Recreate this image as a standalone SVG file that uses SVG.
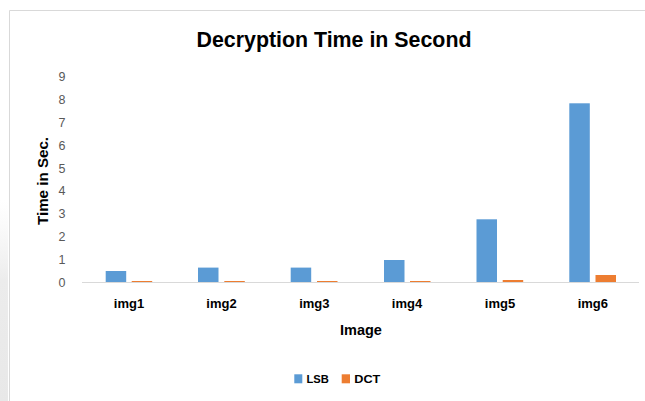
<svg xmlns="http://www.w3.org/2000/svg" width="645" height="401" viewBox="0 0 645 401">
<defs>
<style>
.t{font-family:"Liberation Sans",Arial,sans-serif;fill:#000;font-weight:bold}
.tick{font-family:"Liberation Sans",Arial,sans-serif;fill:#595959;font-size:12.5px;text-anchor:middle}
.cat{font-family:"Liberation Sans",Arial,sans-serif;font-weight:bold;font-size:13px;fill:#000;text-anchor:middle}
.lsb{fill:#5b9bd5}
.dct{fill:#ed7d31}
</style>
<linearGradient id="wm" x1="0" y1="0" x2="0" y2="1">
<stop offset="0" stop-color="#f2f2f2" stop-opacity="0"/>
<stop offset="0.4" stop-color="#ececec"/>
<stop offset="1" stop-color="#e8e8e8"/>
</linearGradient>
</defs>
<rect width="645" height="401" fill="#fff"/>
<rect x="0" y="200" width="8" height="201" fill="url(#wm)"/>
<path d="M9.5 401V10.5H645" fill="none" stroke="#d9d9d9" stroke-width="1"/>
<g id="title">
<text class="t" x="334" y="47" font-size="22.5" text-anchor="middle" textLength="275" lengthAdjust="spacingAndGlyphs">Decryption Time in Second</text>
</g>
<g id="y-axis">
<text class="t" transform="translate(48,181) rotate(-90)" font-size="14.5" text-anchor="middle" textLength="88" lengthAdjust="spacingAndGlyphs">Time in Sec.</text>
<text class="tick" x="62" y="286.5">0</text>
<text class="tick" x="62" y="263.7">1</text>
<text class="tick" x="62" y="240.9">2</text>
<text class="tick" x="62" y="218.1">3</text>
<text class="tick" x="62" y="195.3">4</text>
<text class="tick" x="62" y="172.5">5</text>
<text class="tick" x="62" y="149.7">6</text>
<text class="tick" x="62" y="126.9">7</text>
<text class="tick" x="62" y="104.1">8</text>
<text class="tick" x="62" y="81.3">9</text>
</g>
<g id="bars">
<rect class="lsb" x="105.7" y="271" width="20.5" height="11"/>
<rect class="dct" x="131.7" y="281" width="20.5" height="1"/>
<rect class="lsb" x="198" y="267.6" width="20.5" height="14.4"/>
<rect class="dct" x="224.3" y="281" width="20.5" height="1"/>
<rect class="lsb" x="290.7" y="267.6" width="20.5" height="14.4"/>
<rect class="dct" x="317" y="281" width="20.5" height="1"/>
<rect class="lsb" x="384" y="260" width="20.5" height="22"/>
<rect class="dct" x="410" y="281" width="20.5" height="1"/>
<rect class="lsb" x="476.5" y="219.3" width="20.5" height="62.7"/>
<rect class="dct" x="502.7" y="280" width="20.5" height="2"/>
<rect class="lsb" x="569.3" y="103.3" width="20.5" height="178.7"/>
<rect class="dct" x="595.5" y="275" width="20.5" height="7"/>
</g>
<g id="x-axis">
<line x1="82" y1="282.5" x2="639" y2="282.5" stroke="#d9d9d9" stroke-width="1"/>
<text class="cat" x="129" y="308">img1</text>
<text class="cat" x="221.5" y="308">img2</text>
<text class="cat" x="314.3" y="308">img3</text>
<text class="cat" x="407" y="308">img4</text>
<text class="cat" x="500" y="308">img5</text>
<text class="cat" x="592.8" y="308">img6</text>
<text class="t" x="361" y="335" font-size="14.5" text-anchor="middle">Image</text>
</g>
<g id="legend">
<rect class="lsb" x="294.3" y="374.3" width="8" height="9"/>
<text class="t" x="306.5" y="383" font-size="11.2">LSB</text>
<rect class="dct" x="341.7" y="374.3" width="8.3" height="9"/>
<text class="t" x="354.3" y="383" font-size="11.2" textLength="26" lengthAdjust="spacingAndGlyphs">DCT</text>
</g>
</svg>
